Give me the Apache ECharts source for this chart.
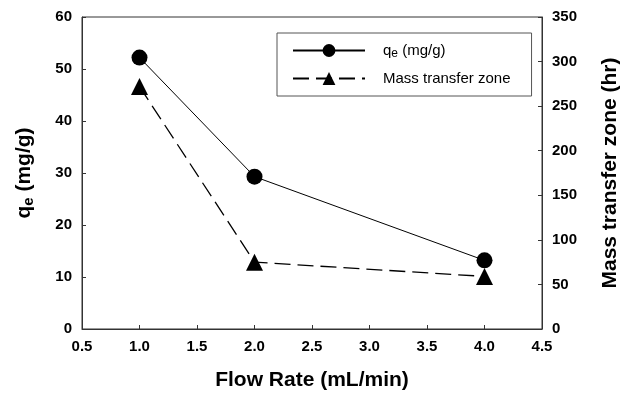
<!DOCTYPE html>
<html>
<head>
<meta charset="utf-8">
<script src="https://cdn.jsdelivr.net/npm/echarts@6/dist/echarts.min.js"></script>
<style>
  html, body { margin: 0; padding: 0; background: #fff; }
  #chart { width: 630px; height: 396px; }
</style>
</head>
<body>
<div id="chart"></div>
<script>
  // 数据
  var flowRate = [1.0, 2.0, 4.0];
  var qeValues = [52.2, 29.3, 13.2];
  var mtzValues = [272, 75, 59];

  var chart = echarts.init(document.getElementById('chart'));
  var font = 'Liberation Sans, Arial, sans-serif';
  var tickLabel = { color: '#000', fontFamily: font, fontSize: 15, fontWeight: 'bold' };
  var axisName = { color: '#000', fontFamily: font, fontSize: 21, fontWeight: 'bold' };

  var option = {
    animation: false,
    grid: {
      left: 82, right: 88, top: 17, bottom: 67,
      show: true, borderColor: '#333', borderWidth: 1
    },
    legend: {
      left: 277, top: 33,
      orient: 'vertical',
      padding: [10, 21, 10, 15],
      itemGap: 11,
      itemWidth: 72, itemHeight: 16,
      borderColor: '#555', borderWidth: 1,
      backgroundColor: '#fff',
      textStyle: {
        color: '#000', fontFamily: font, fontSize: 15, padding: [0, 0, 0, 13], width: 125,
        rich: { sub: { fontSize: 12, fontFamily: font, padding: [7, 0, 0, 0] } }
      },
      formatter: function (name) {
        return name === 'qe' ? 'q{sub|e} (mg/g)' : name;
      }
    },
    xAxis: {
      type: 'value',
      min: 0.5, max: 4.5, interval: 0.5,
      name: 'Flow Rate (mL/min)',
      nameLocation: 'middle', nameGap: 41,
      nameTextStyle: axisName,
      axisLine: { lineStyle: { color: '#333' } },
      axisTick: { inside: true, length: 4, lineStyle: { color: '#333' } },
      axisLabel: Object.assign({ margin: 10, formatter: function (v) { return v.toFixed(1); } }, tickLabel),
      splitLine: { show: false }
    },
    yAxis: [{
      type: 'value',
      min: 0, max: 60, interval: 10,
      name: 'q{sub|e} (mg/g)',
      nameLocation: 'middle', nameGap: 46, nameRotate: 90,
      nameTextStyle: Object.assign({
        rich: { sub: { fontSize: 15, fontWeight: 'bold', fontFamily: font, padding: [9, 0, 0, 0] } }
      }, axisName),
      axisLine: { show: true, lineStyle: { color: '#333' } },
      axisTick: { show: true, inside: true, length: 4, lineStyle: { color: '#333' } },
      axisLabel: Object.assign({ margin: 10 }, tickLabel),
      splitLine: { show: false }
    }, {
      type: 'value',
      min: 0, max: 350, interval: 50,
      position: 'right',
      name: 'Mass transfer zone (hr)',
      nameLocation: 'middle', nameGap: 58, nameRotate: 90,
      nameTextStyle: axisName,
      axisLine: { show: true, lineStyle: { color: '#333' } },
      axisTick: { show: true, inside: true, length: 4, lineStyle: { color: '#333' } },
      axisLabel: Object.assign({ margin: 10 }, tickLabel),
      splitLine: { show: false }
    }],
    series: [{
      name: 'qe',
      type: 'line',
      yAxisIndex: 0,
      symbol: 'circle', symbolSize: 16,
      itemStyle: { color: '#000' },
      lineStyle: { color: '#000', width: 1 },
      data: flowRate.map(function (x, i) { return [x, qeValues[i]]; })
    }, {
      name: 'Mass transfer zone',
      type: 'line',
      yAxisIndex: 1,
      symbol: 'triangle', symbolSize: 17,
      itemStyle: { color: '#000' },
      lineStyle: { color: '#000', width: 1.3, type: [16, 7] },
      data: flowRate.map(function (x, i) { return [x, mtzValues[i]]; })
    }]
  };
  chart.setOption(option);
</script>
</body>
</html>
